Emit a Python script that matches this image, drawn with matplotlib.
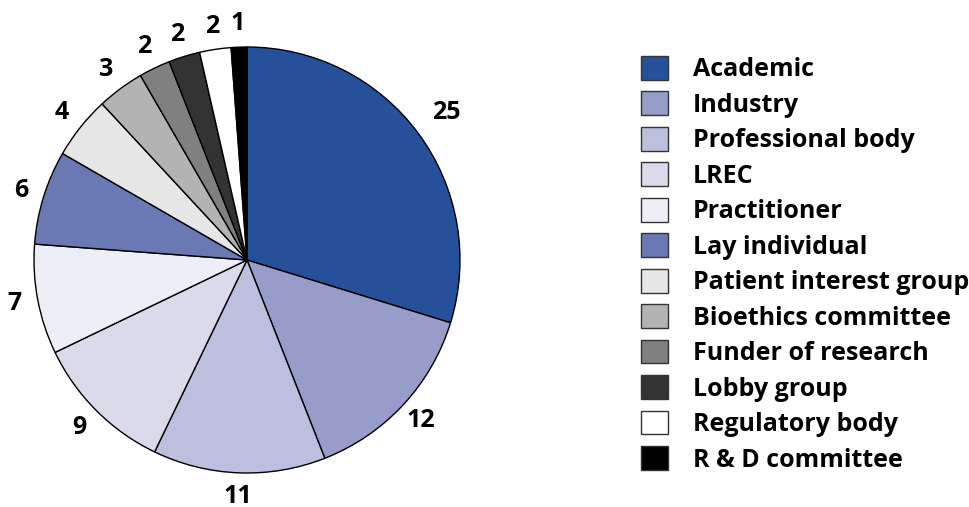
import matplotlib
matplotlib.use("Agg")
import matplotlib.pyplot as plt

categories = ["Academic", "Industry", "Professional body", "LREC", "Practitioner",
              "Lay individual", "Patient interest group", "Bioethics committee",
              "Funder of research", "Lobby group", "Regulatory body", "R & D committee"]
values = [25, 12, 11, 9, 7, 6, 4, 3, 2, 2, 2, 1]
colors = ["#27509B", "#979CC8", "#BCBFDD", "#DADAEB", "#EEEEF6", "#6A78B3",
          "#E6E6E6", "#B3B3B3", "#808080", "#333333", "#FFFFFF", "#000000"]

plt.rcParams['font.family'] = ['Open Sans', 'DejaVu Sans']

W, H = 969, 507
fig = plt.figure(figsize=(W / 100, H / 100), dpi=100)
cx, cy, R = 247, 507 - 260, 213
half = 250
ax = fig.add_axes([(cx - half) / W, (cy - half) / H, 2 * half / W, 2 * half / H])
wedges, texts = ax.pie(values, colors=colors, startangle=90, counterclock=False,
                       radius=R, labels=[str(v) for v in values], labeldistance=1.11,
                       wedgeprops=dict(edgecolor="black", linewidth=1.0),
                       textprops=dict(fontsize=18, fontweight="bold"))
for t in texts:
    t.set_ha("center")
    t.set_va("center")
texts[0].set_position((texts[0].get_position()[0] * 1.05, texts[0].get_position()[1] * 1.05))
ax.set_xlim(-half, half)
ax.set_ylim(-half, half)
ax.set_aspect("equal")
ax.axis("off")

fs = 18
fs_px = fs * 100 / 72
leg = fig.legend(wedges, categories, loc="upper left",
                 bbox_to_anchor=(641 / W, 1 - 56 / H),
                 frameon=False, prop=dict(size=fs, weight="bold"),
                 handlelength=27 / fs_px, handleheight=27 / fs_px,
                 handletextpad=(693 - 668) / fs_px, labelspacing=0.365,
                 borderaxespad=0, borderpad=0)
for h in leg.legend_handles:
    h.set_edgecolor("#333333")
    h.set_linewidth(1.0)

fig.savefig("out.png", dpi=100, facecolor="white")
